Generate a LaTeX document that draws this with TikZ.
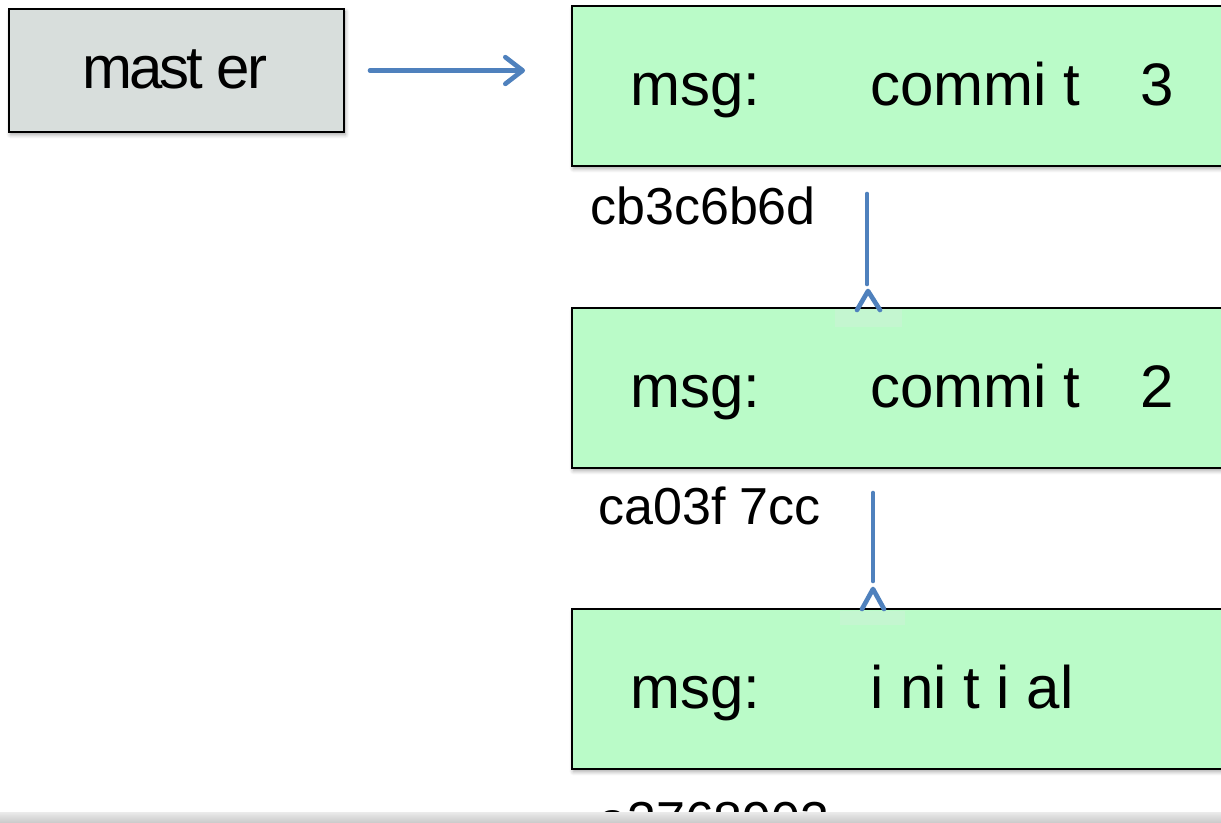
\documentclass[tikz,border=0pt]{standalone}
\usepackage{fontspec}
\setmainfont{Liberation Sans}
\usetikzlibrary{shadows.blur,arrows.meta}
\definecolor{commitgreen}{RGB}{186,251,200}
\definecolor{patchgreen}{RGB}{196,246,208}
\definecolor{refgray}{RGB}{216,222,220}
\definecolor{linkblue}{RGB}{79,129,189}
\tikzset{
  x=0.75pt, y=-0.75pt,
  boxshadow/.style={blur shadow={shadow xshift=1pt, shadow yshift=-2pt, shadow blur steps=6, shadow opacity=35, shadow blur radius=3pt}},
  refbox/.style={draw=black, line width=1.5pt, fill=refgray, boxshadow, anchor=north west,
    minimum width=251.25pt, minimum height=92.25pt, inner sep=0pt},
  commitbox/.style={draw=black, line width=1.5pt, fill=commitgreen, boxshadow, anchor=north west,
    minimum width=510pt, minimum height=120pt, inner sep=0pt},
  boxtext/.style={anchor=base west, inner sep=0pt, font=\fontsize{45}{54}\selectfont},
  hashtext/.style={anchor=base west, inner sep=0pt, font=\fontsize{39}{46}\selectfont},
  link/.style={draw=linkblue, line width=3.5pt, line cap=round},
  caret/.style={draw=linkblue, line width=3.5pt, line cap=round, line join=round},
}
\begin{document}
\begin{tikzpicture}
\useasboundingbox (0,0) rectangle (1221,822);
\clip (0,0) rectangle (1221,822);

% branch reference
\node[refbox] (master) at (8,8) {};
\node[boxtext, font=\fontsize{45}{54}\selectfont\addfontfeature{LetterSpace=-5}] (mastertxt) at (82,88) {mast er};

% commits
\node[commitbox] (c3) at (571,5) {};
\node[commitbox] (c2) at (571,307) {};
\node[commitbox] (c1) at (571,608) {};

\node[boxtext] (c3msg) at (630,105) {msg:};
\node[boxtext] (c3val) at (870,105) {commi t};
\node[boxtext] (c3num) at (1140,105) {3};
\node[boxtext] (c2msg) at (630,407) {msg:};
\node[boxtext] (c2val) at (870,407) {commi t};
\node[boxtext] (c2num) at (1140,407) {2};
\node[boxtext] (c1msg) at (630,708) {msg:};
\node[boxtext] (c1val) at (870,708) {i ni t i al};

% commit hashes
\node[hashtext] (h3) at (590,224) {cb3c6b6d};
\node[hashtext] (h2) at (598,524) {ca03f 7cc};
\node[hashtext] (h1) at (598,838) {a3768903};

% light patches under the parent arrows
\fill[patchgreen] (835,309) rectangle (902,327);
\fill[patchgreen] (840,611) rectangle (905,625);

% master -> commit 3
\draw[link, -{Straight Barb[length=13pt,width=20pt,round]}, shorten <=18.75pt, shorten >=34.5pt]
  (master.east) -- (master.east -| c3.west);

% parent links
\coordinate (c3out) at (867,194);
\coordinate (c2end) at (867,284);
\coordinate (c2tip) at (868,291);
\draw[link] (c3out) -- (c2end);
\draw[caret] (857,310) -- (c2tip) -- (880,310);

\coordinate (c2out) at (873,493);
\coordinate (c1end) at (873,581);
\coordinate (c1tip) at (873,589);
\draw[link] (c2out) -- (c1end);
\draw[caret] (862,609) -- (c1tip) -- (884,609);

% bottom edge strip
\shade[top color=white!92!black, bottom color=white!80!black] (0,812) rectangle (1221,822);
\end{tikzpicture}
\end{document}
